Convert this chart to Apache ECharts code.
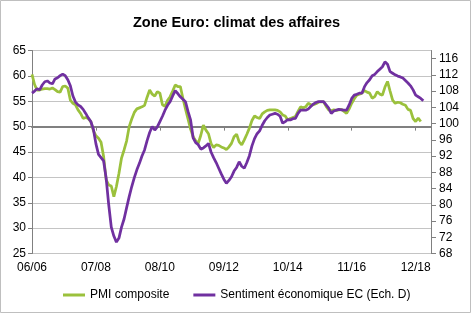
<!DOCTYPE html>
<html>
<head>
<meta charset="utf-8">
<script src="https://cdn.jsdelivr.net/npm/echarts@6/dist/echarts.min.js"></script>
<style>
html,body{margin:0;padding:0;background:#fff;}
#c{width:473px;height:334px;}
</style>
</head>
<body>
<div id="c"></div>
<script>
// Monthly categories from 06/2006 to 06/2019
var startYear = 2006, startMonth = 6, monthCount = 157;
var months = [];
for (var k = 0; k < monthCount; k++) {
  var m = (startMonth - 1 + k) % 12 + 1;
  var y = startYear + Math.floor((startMonth - 1 + k) / 12);
  months.push((m < 10 ? '0' + m : '' + m) + '/' + String(y).slice(2));
}

var pmiComposite = [
  60.3, 58.3, 57.2, 57.2, 57.4, 57.5, 57.5, 57.4, 57.6, 57.3,
  56.9, 56.8, 57.9, 58.0, 57.6, 55.2, 54.6, 54.3, 53.3, 52.6,
  51.6, 51.8, 51.6, 51.0, 49.2, 48.2, 47.7, 46.9, 44.1, 39.5,
  38.5, 38.3, 36.2, 38.2, 40.8, 43.8, 45.4, 47.2, 50.0, 51.5,
  52.8, 53.5, 53.7, 53.9, 54.2, 55.8, 57.2, 56.4, 56.0, 56.9,
  56.6, 54.3, 54.0, 55.2, 55.9, 57.0, 58.2, 57.9, 57.9, 55.6,
  53.5, 51.5, 49.5, 48.0, 47.2, 46.7, 48.3, 50.3, 49.3, 48.6,
  46.7, 45.9, 46.4, 46.3, 46.0, 45.8, 45.5, 46.0, 46.7, 48.0,
  48.5, 47.0, 46.4, 47.4, 48.5, 49.7, 51.2, 52.1, 51.8, 51.6,
  52.5, 52.9, 53.2, 53.3, 53.3, 53.3, 53.2, 52.9, 52.3, 52.1,
  51.3, 51.6, 51.8, 52.0, 53.0, 53.9, 53.7, 53.9, 54.6, 54.3,
  54.3, 54.5, 54.8, 54.9, 54.9, 54.0, 53.3, 53.1, 53.3, 53.2,
  53.3, 53.4, 53.0, 52.6, 53.5, 54.6, 55.5, 56.2, 56.4, 56.6,
  57.1, 56.8, 56.6, 55.6, 55.9, 56.9, 56.4, 56.2, 57.8, 58.9,
  57.0, 55.2, 54.6, 54.8, 54.7, 54.4, 54.2, 53.4, 53.2, 51.6,
  51.0, 51.7, 51.0
];

var sentimentEC = [
  107.5, 108.0, 108.6, 108.3, 109.5, 110.3, 110.5, 110.0, 109.8, 111.0,
  111.3, 111.8, 112.2, 111.8, 110.8, 109.3, 106.8, 105.3, 104.6, 104.2,
  103.5, 102.5, 101.4, 100.5, 98.6, 95.0, 92.4, 91.6, 90.8, 86.5,
  80.0, 74.5, 72.3, 70.8, 71.8, 74.5, 76.5, 79.3, 82.0, 84.5,
  86.7, 88.6, 90.2, 92.0, 93.5, 95.8, 97.8, 99.3, 98.4, 99.2,
  100.5, 101.8, 103.3, 104.5, 105.4, 106.8, 108.1, 107.4, 106.6, 106.0,
  105.4, 103.0, 100.9, 96.5, 95.3, 94.8, 93.7, 94.0, 94.5, 95.1,
  93.0, 91.6, 90.4, 89.0, 87.6, 86.3, 85.3, 86.0, 86.9, 88.3,
  89.2, 90.6, 89.5, 89.0, 90.4, 92.1, 94.5, 96.3, 97.5, 98.2,
  99.6, 100.7, 101.5, 102.1, 102.3, 102.5, 102.3, 101.8, 100.1, 100.5,
  101.0, 100.9, 101.2, 101.3, 102.5, 103.3, 103.3, 103.3, 103.6, 104.2,
  104.8, 105.2, 105.4, 105.4, 105.4, 104.6, 103.8, 102.5, 103.1, 103.3,
  103.5, 103.4, 103.3, 103.3, 104.6, 106.2, 107.0, 107.2, 107.5, 107.5,
  109.1, 110.1, 110.8, 111.8, 112.1, 112.8, 113.4, 114.0, 115.2, 114.6,
  112.8, 112.4, 112.0, 111.7, 111.5, 111.2, 110.6, 110.0, 109.3, 108.3,
  107.0, 106.6, 106.2, 105.6
];

var leftTicks = {min: 25, max: 65, step: 5};
var rightTicks = {min: 68, max: 118, step: 4};
var xAxisCross = 50;

var gridTop = 50.5, gridBottom = 80.5;
var plotH = 334 - gridTop - gridBottom;
var crossOffset = -plotH * (xAxisCross - leftTicks.min) / (leftTicks.max - leftTicks.min);

var FONT = '"Liberation Sans", Arial, sans-serif';
var chart = echarts.init(document.getElementById('c'), null, {renderer: 'canvas'});
chart.setOption({
  backgroundColor: '#ffffff',
  animation: false,
  title: {
    text: 'Zone Euro: climat des affaires',
    left: 'center', top: 10,
    textStyle: {fontFamily: FONT, fontSize: 14.5, fontWeight: 'bold', color: '#000'}
  },
  legend: {
    left: 58, top: 284,
    itemWidth: 22, itemHeight: 3, itemGap: 24,
    icon: 'rect',
    textStyle: {fontFamily: FONT, fontSize: 12, color: '#000'},
    data: ['PMI composite', 'Sentiment économique EC (Ech. D)']
  },
  graphic: [{
    type: 'rect', shape: {x: 0.5, y: 0.5, width: 470, height: 312},
    style: {fill: 'none', stroke: '#bfbfbf', lineWidth: 1}, silent: true
  }],
  grid: {left: 32, right: 42, top: gridTop, bottom: gridBottom, containLabel: false},
  xAxis: [{
    type: 'category', data: months, boundaryGap: false, position: 'bottom',
    axisLine: {show: false}, axisTick: {show: false},
    axisLabel: {interval: 24, margin: 8, fontFamily: FONT, fontSize: 12, color: '#000'},
    splitLine: {show: false}
  }, {
    type: 'category', data: months, boundaryGap: false, position: 'bottom',
    offset: crossOffset,
    axisLine: {show: true, lineStyle: {color: '#808080', width: 2}},
    axisTick: {show: true, interval: 24, length: 4, lineStyle: {color: '#808080', width: 1}},
    axisLabel: {show: false}, splitLine: {show: false}
  }],
  yAxis: [{
    type: 'value', position: 'left', min: leftTicks.min, max: leftTicks.max, interval: leftTicks.step,
    axisLine: {show: true, lineStyle: {color: '#808080', width: 1}},
    axisTick: {show: true, length: 4, lineStyle: {color: '#808080'}},
    axisLabel: {margin: 6, fontFamily: FONT, fontSize: 12, color: '#000'},
    splitLine: {show: true, lineStyle: {color: '#c4c4c4', width: 1}}
  }, {
    type: 'value', position: 'right', min: rightTicks.min, max: rightTicks.max, interval: rightTicks.step,
    axisLine: {show: true, lineStyle: {color: '#808080', width: 1}},
    axisTick: {show: true, length: 5, lineStyle: {color: '#808080'}},
    axisLabel: {margin: 8, showMaxLabel: false, fontFamily: FONT, fontSize: 12, color: '#000'},
    splitLine: {show: false}
  }],
  series: [{
    name: 'PMI composite', type: 'line', xAxisIndex: 0, yAxisIndex: 0,
    data: pmiComposite, symbol: 'none', smooth: false,
    lineStyle: {color: '#9bc13c', width: 2.75}, itemStyle: {color: '#9bc13c'}, z: 3
  }, {
    name: 'Sentiment économique EC (Ech. D)', type: 'line', xAxisIndex: 0, yAxisIndex: 1,
    data: sentimentEC, symbol: 'none', smooth: false,
    lineStyle: {color: '#7030a0', width: 2.75}, itemStyle: {color: '#7030a0'}, z: 4
  }]
});
</script>
</body>
</html>
